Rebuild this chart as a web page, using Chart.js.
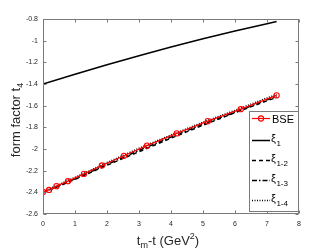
<!DOCTYPE html>
<html><head><meta charset="utf-8">
<script src="https://cdn.jsdelivr.net/npm/chart.js@4"></script>
<style>html,body{margin:0;padding:0;background:#fff;}canvas{display:block;}</style>
</head><body>
<canvas id="c" width="332" height="249"></canvas>
<script>
const xTicks = [0, 1, 2, 3, 4, 5, 6, 7, 8];
const yTicks = [-2.6, -2.4, -2.2, -2, -1.8, -1.6, -1.4, -1.2, -1, -0.8];
const bseT = [0, 0.19, 0.42, 0.78, 1.28, 1.84, 2.53, 3.25, 4.18, 5.15, 6.18, 7.30];
const bseF = [-2.396, -2.378, -2.343, -2.297, -2.230, -2.152, -2.063, -1.969, -1.856, -1.743, -1.632, -1.505];
const xiT = [0, 1, 2, 3, 4, 5, 6, 7, 7.3];
const xi1 = [-1.400, -1.310, -1.223, -1.139, -1.059, -0.983, -0.911, -0.843, -0.823];
const xi12 = [-2.405, -2.280, -2.150, -2.025, -1.900, -1.780, -1.665, -1.555, -1.525];
const xi13 = [-2.400, -2.276, -2.143, -2.013, -1.890, -1.771, -1.660, -1.546, -1.516];
const xi14 = [-2.393, -2.262, -2.125, -1.993, -1.870, -1.752, -1.643, -1.528, -1.497];
const legendMain = ['BSE', 'ξ', 'ξ', 'ξ', 'ξ'];
const legendSub = ['', '1', '1-2', '1-3', '1-4'];

const pts = (xs, ys) => xs.map((x, i) => ({x: x, y: ys[i]}));
const FONT = '"Liberation Sans", Arial, sans-serif';
const AXIS = '#7a7a7a';
const TXT = '#262626';

const mk = (label, xs, ys, dash, extra) => Object.assign({
  label: label, data: pts(xs, ys), showLine: true, borderColor: '#000',
  backgroundColor: '#000', borderWidth: 1.5, borderDash: dash, pointRadius: 0,
  tension: 0, fill: false
}, extra || {});

const datasets = [
  mk('BSE', bseT, bseF, [], {borderColor: '#ff0000', borderWidth: 1.2, pointRadius: 2.6,
     pointBorderColor: '#ff0000', pointBackgroundColor: 'rgba(0,0,0,0)', pointBorderWidth: 1.1, pointStyle: 'circle'}),
  mk('ξ1', xiT, xi1, []),
  mk('ξ1-2', xiT, xi12, [4, 3]),
  mk('ξ1-3', xiT, xi13, [5, 2, 1.5, 2]),
  mk('ξ1-4', xiT, xi14, [1, 1.5])
];

const deco = {
  id: 'deco',
  afterDraw(chart) {
    const ctx = chart.ctx, a = chart.chartArea, xs = chart.scales.x, ys = chart.scales.y;
    ctx.save();
    ctx.strokeStyle = AXIS; ctx.lineWidth = 1; ctx.setLineDash([]);
    const L = Math.round(a.left) + 0.5, T = Math.round(a.top) + 0.5, R = Math.round(a.right) - 0.5, B = Math.round(a.bottom) - 0.5;
    ctx.strokeRect(L, T, R - L, B - T);
    ctx.beginPath();
    xTicks.forEach(v => {
      const p = Math.round(xs.getPixelForValue(v)) + 0.5;
      ctx.moveTo(p, B); ctx.lineTo(p, B - 3);
      ctx.moveTo(p, T); ctx.lineTo(p, T + 3);
    });
    yTicks.forEach(v => {
      const p = Math.round(ys.getPixelForValue(v)) + 0.5;
      ctx.moveTo(L, p); ctx.lineTo(L + 3, p);
      ctx.moveTo(R, p); ctx.lineTo(R - 3, p);
    });
    ctx.stroke();

    ctx.fillStyle = TXT;
    ctx.textBaseline = 'alphabetic';
    ctx.textAlign = 'left';
    const big = '13px ' + FONT, small = '9px ' + FONT;
    ctx.font = big; const w1 = ctx.measureText('t').width, w3 = ctx.measureText('-t (GeV').width, w5 = ctx.measureText(')').width;
    ctx.font = small; const w2 = ctx.measureText('m').width, w4 = ctx.measureText('2').width;
    const tot = w1 + w2 + w3 + w4 + w5;
    let x = (a.left + a.right) / 2 - 3 - tot / 2; const by = 245;
    ctx.font = big; ctx.fillText('t', x, by); x += w1;
    ctx.font = small; ctx.fillText('m', x, by + 3); x += w2;
    ctx.font = big; ctx.fillText('-t (GeV', x, by); x += w3;
    ctx.font = small; ctx.fillText('2', x, by - 6); x += w4;
    ctx.font = big; ctx.fillText(')', x, by);
    ctx.save();
    ctx.translate(20, 120);
    ctx.rotate(-Math.PI / 2);
    ctx.font = big; const m1 = ctx.measureText('form factor t').width;
    ctx.font = small; const m2 = ctx.measureText('4').width;
    let yx = -(m1 + m2) / 2;
    ctx.font = big; ctx.fillText('form factor t', yx, 0); yx += m1;
    ctx.font = small; ctx.fillText('4', yx, 3);
    ctx.restore();

    const lx = 249.5, ly = 111.5, lw = 49, lh = 100;
    ctx.fillStyle = '#fff'; ctx.fillRect(lx, ly, lw, lh);
    ctx.strokeStyle = AXIS; ctx.lineWidth = 1; ctx.strokeRect(lx, ly, lw, lh);
    const rows = [118, 140, 160, 180, 200];
    chart.data.datasets.forEach((ds, i) => {
      const y = rows[i];
      ctx.strokeStyle = ds.borderColor; ctx.lineWidth = ds.borderWidth;
      ctx.setLineDash(ds.borderDash || []);
      ctx.beginPath(); ctx.moveTo(252, y + 0.5); ctx.lineTo(270, y + 0.5); ctx.stroke();
      ctx.setLineDash([]);
      if (ds.pointRadius > 0) {
        ctx.lineWidth = ds.pointBorderWidth; ctx.strokeStyle = ds.pointBorderColor;
        ctx.beginPath(); ctx.arc(261, y + 0.5, ds.pointRadius, 0, Math.PI * 2); ctx.stroke();
      }
      ctx.fillStyle = '#000';
      ctx.textBaseline = 'alphabetic';
      if (legendSub[i] === '') {
        ctx.font = '11px ' + FONT; ctx.fillText(legendMain[i], 272, y + 4.5);
      } else {
        ctx.font = '11px ' + FONT; ctx.fillText(legendMain[i], 271, y + 2);
        const wm = ctx.measureText(legendMain[i]).width;
        ctx.font = '8px ' + FONT; ctx.fillText(legendSub[i], 271 + wm + 0.5, y + 6);
      }
    });
    ctx.restore();
  }
};

new Chart(document.getElementById('c'), {
  type: 'scatter',
  data: {datasets: datasets},
  options: {
    responsive: false, devicePixelRatio: 1, animation: false,
    layout: {padding: {left: 0, top: 19, right: 33, bottom: 0}},
    plugins: {legend: {display: false}, tooltip: {enabled: false}},
    scales: {
      x: {
        type: 'linear', min: 0, max: 8,
        afterBuildTicks: s => { s.ticks = xTicks.map(v => ({value: v})); },
        afterFit: s => { s.height = 35; },
        grid: {display: false, drawTicks: false}, border: {display: false},
        ticks: {padding: 6, color: TXT, font: {family: FONT, size: 7}, callback: v => String(v), maxRotation: 0}
      },
      y: {
        type: 'linear', min: -2.6, max: -0.8,
        afterBuildTicks: s => { s.ticks = yTicks.map(v => ({value: v})); },
        afterFit: s => { s.width = 43; },
        grid: {display: false, drawTicks: false}, border: {display: false},
        ticks: {padding: 5, color: TXT, font: {family: FONT, size: 7}, callback: v => String(v)}
      }
    }
  },
  plugins: [deco]
});
</script>
</body></html>
